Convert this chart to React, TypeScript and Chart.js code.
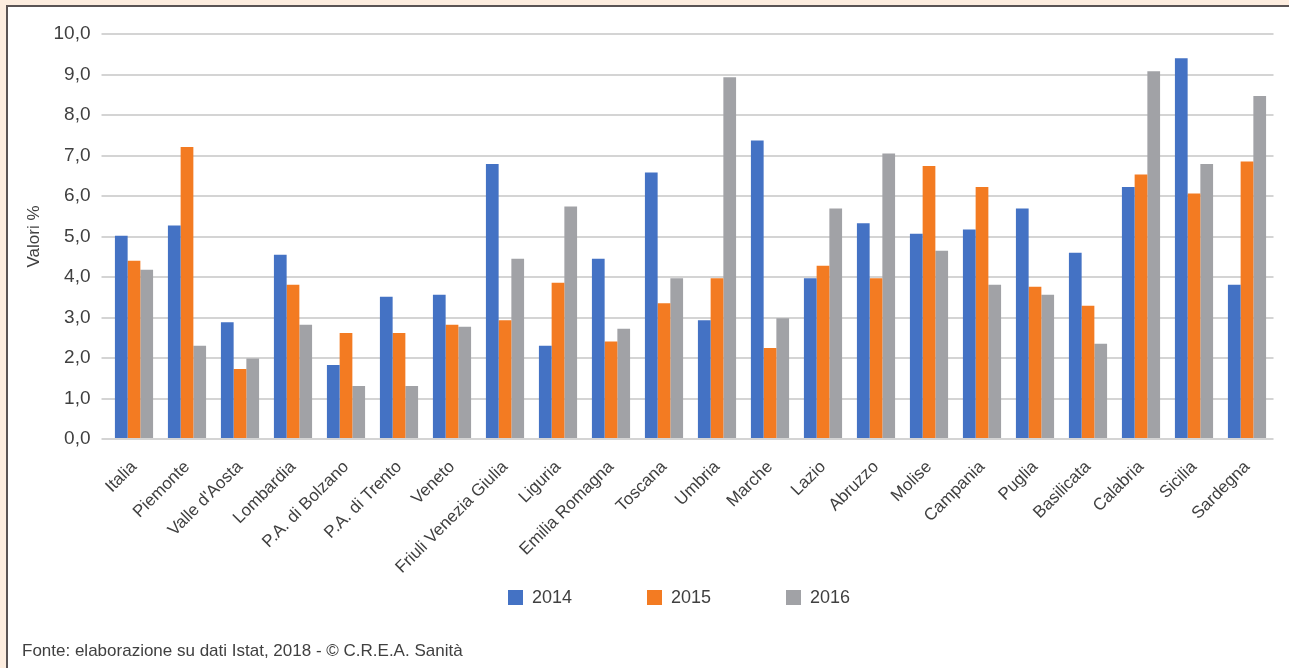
import React, { useEffect, useRef } from "react";
import { Chart, registerables } from "chart.js";

Chart.register(...registerables);

const categories = [
  "Italia", "Piemonte", "Valle d'Aosta", "Lombardia", "P.A. di Bolzano", "P.A. di Trento",
  "Veneto", "Friuli Venezia Giulia", "Liguria", "Emilia Romagna", "Toscana", "Umbria",
  "Marche", "Lazio", "Abruzzo", "Molise", "Campania", "Puglia", "Basilicata", "Calabria",
  "Sicilia", "Sardegna",
];

const years = ["2014", "2015", "2016"];

const values2014 = [5.02, 5.27, 2.88, 4.55, 1.83, 3.51, 3.56, 6.79, 2.3, 4.45, 6.58, 2.93, 7.37, 3.97, 5.33, 5.07, 5.17, 5.69, 4.6, 6.22, 9.4, 3.81];
const values2015 = [4.4, 7.21, 1.73, 3.81, 2.62, 2.62, 2.82, 2.93, 3.86, 2.41, 3.35, 3.97, 2.25, 4.28, 3.97, 6.74, 6.22, 3.76, 3.29, 6.53, 6.06, 6.85];
const values2016 = [4.18, 2.3, 1.99, 2.82, 1.31, 1.31, 2.77, 4.45, 5.74, 2.72, 3.97, 8.93, 2.98, 5.69, 7.05, 4.65, 3.81, 3.56, 2.35, 9.08, 6.79, 8.47];

const yTicks = [0, 1, 2, 3, 4, 5, 6, 7, 8, 9, 10];

const colors = ["#4472C4", "#F37B22", "#A1A2A6"];
const textColor = "#404040";
const fontFamily = '"Liberation Sans", Arial, Helvetica, sans-serif';
const footerText = "Fonte: elaborazione su dati Istat, 2018 - © C.R.E.A. Sanità";

const legendPlugin = {
  id: "customLegend",
  afterDraw(chart: any) {
    const ctx = chart.ctx;
    ctx.save();
    ctx.font = `18px ${fontFamily}`;
    ctx.textBaseline = "middle";
    ctx.textAlign = "left";
    chart.data.datasets.forEach((ds: any, i: number) => {
      const x = 508 + i * 139;
      ctx.fillStyle = ds.backgroundColor;
      ctx.fillRect(x, 590, 15, 15);
      ctx.fillStyle = textColor;
      ctx.fillText(ds.label, x + 24, 598);
    });
    ctx.restore();
  },
};

export default function App() {
  const canvasRef = useRef<HTMLCanvasElement | null>(null);

  useEffect(() => {
    const canvas = canvasRef.current;
    if (!canvas) return;
    const series = [values2014, values2015, values2016];
    const chart = new Chart(canvas, {
      type: "bar",
      data: {
        labels: categories,
        datasets: years.map((y, i) => ({
          label: y,
          data: series[i],
          backgroundColor: colors[i],
          borderWidth: 0,
          categoryPercentage: 0.72,
          barPercentage: 1.0,
        })),
      },
      options: {
        animation: false,
        responsive: false,
        devicePixelRatio: 1,
        layout: { padding: { left: 12, right: 15.5, top: 34, bottom: 79 } },
        plugins: {
          legend: { display: false },
          tooltip: { enabled: false },
        },
        scales: {
          x: {
            offset: true,
            grid: { display: false },
            border: { display: false },
            ticks: {
              autoSkip: false,
              minRotation: 45,
              maxRotation: 45,
              padding: 10,
              color: textColor,
              font: { family: fontFamily, size: 17 },
            },
            afterFit(scale: any) {
              scale.height = 150;
            },
          },
          y: {
            min: 0,
            max: 10,
            afterBuildTicks(scale: any) {
              scale.ticks = yTicks.map((v) => ({ value: v }));
            },
            grid: { color: "#D4D4D4", lineWidth: 2, tickLength: 6, drawTicks: true },
            border: { display: false },
            ticks: {
              padding: 11,
              color: textColor,
              font: { family: fontFamily, size: 19 },
              callback: (v: any) => Number(v).toFixed(1).replace(".", ","),
            },
            title: {
              display: true,
              text: "Valori %",
              color: textColor,
              font: { family: fontFamily, size: 17 },
              padding: { top: 12, bottom: 0 },
            },
            afterFit(scale: any) {
              scale.width = 95.5;
            },
          },
        },
      },
      plugins: [legendPlugin],
    });
    return () => chart.destroy();
  }, []);

  return (
    <div
      style={{
        position: "absolute",
        left: 0,
        top: 0,
        width: 1289,
        height: 668,
        background: "#FDEDDF",
        overflow: "hidden",
      }}
    >
      <div
        style={{
          position: "absolute",
          left: 6,
          top: 5,
          width: 1300,
          height: 700,
          background: "#FFFFFF",
          borderTop: "2px solid #5A5454",
          borderLeft: "2px solid #5A5454",
        }}
      />
      <canvas
        ref={canvasRef}
        width={1289}
        height={668}
        style={{ position: "absolute", left: 0, top: 0, width: 1289, height: 668 }}
      />
      <div
        style={{
          position: "absolute",
          left: 22,
          top: 641,
          fontFamily: fontFamily,
          fontSize: 17,
          lineHeight: "20px",
          color: textColor,
          whiteSpace: "nowrap",
        }}
      >
        {footerText}
      </div>
    </div>
  );
}
